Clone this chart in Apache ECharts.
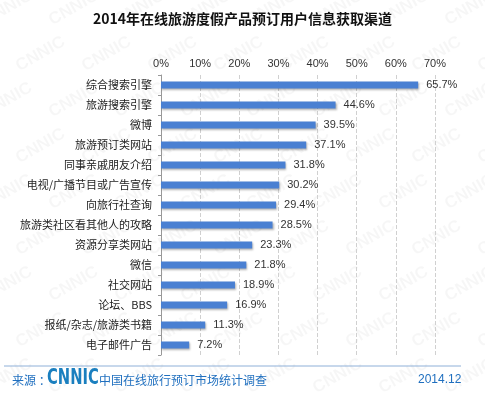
<!DOCTYPE html>
<html>
<head>
<meta charset="utf-8">
<script src="https://cdn.jsdelivr.net/npm/echarts@6/dist/echarts.min.js"></script>
<style>
html, body { margin: 0; padding: 0; background: #fff; }
#main { width: 485px; height: 400px; }
</style>
</head>
<body>
<div id="main"></div>
<script>
var categories = ['综合搜索引擎', '旅游搜索引擎', '微博', '旅游预订类网站', '同事亲戚朋友介绍',
    '电视/广播节目或广告宣传', '向旅行社查询', '旅游类社区看其他人的攻略', '资源分享类网站',
    '微信', '社交网站', '论坛、BBS', '报纸/杂志/旅游类书籍', '电子邮件广告'];
var values = [65.7, 44.6, 39.5, 37.1, 31.8, 30.2, 29.4, 28.5, 23.3, 21.8, 18.9, 16.9, 11.3, 7.2];
var tickValues = [0, 10, 20, 30, 40, 50, 60, 70];

var font = '"Noto Sans CJK SC", "Microsoft YaHei", sans-serif';

// faint CNNIC watermark
var marks = [];
for (var r = 0; r < 9; r++) {
    for (var c = 0; c < 8; c++) {
        marks.push({
            type: 'text',
            x: c * 66 - 20 + (r % 2) * 33,
            y: r * 46 + 14,
            rotation: Math.PI / 6,
            silent: true,
            z: -10,
            style: { text: 'CNNIC', fill: 'rgba(0,0,0,0.035)', font: 'bold 17px Arial' }
        });
    }
}

var chart = echarts.init(document.getElementById('main'));
chart.setOption({
    animation: false,
    backgroundColor: '#fff',
    title: {
        text: '2014年在线旅游度假产品预订用户信息获取渠道',
        left: 'center',
        top: 7,
        textStyle: { fontFamily: font, fontSize: 14, fontWeight: 'bold', color: '#111' }
    },
    grid: { left: 161, right: 50, top: 75, bottom: 45 },
    xAxis: {
        type: 'value',
        position: 'top',
        min: 0,
        max: 70,
        interval: 10,
        axisLine: { show: false },
        axisTick: { show: false },
        axisLabel: {
            color: '#333', fontSize: 11, fontFamily: 'Arial, "Liberation Sans", sans-serif', margin: 6,
            formatter: function (v) { return tickValues.indexOf(v) >= 0 ? v + '%' : ''; }
        },
        splitLine: { lineStyle: { type: 'dashed', color: '#d0d0d0' } }
    },
    yAxis: {
        type: 'category',
        inverse: true,
        data: categories,
        axisLine: { lineStyle: { color: '#999' } },
        axisTick: { show: true, length: 3, lineStyle: { color: '#999' } },
        axisLabel: { color: '#222', fontSize: 11, fontFamily: font, margin: 9 }
    },
    series: [{
        type: 'bar',
        data: values,
        barWidth: 7,
        itemStyle: {
            color: '#4a80d2',
            shadowColor: 'rgba(0,0,0,0.3)',
            shadowOffsetX: 1,
            shadowOffsetY: 1,
            shadowBlur: 2
        },
        label: {
            show: true,
            position: 'right',
            distance: 8,
            color: '#333',
            fontSize: 11,
            fontFamily: 'Arial, "Liberation Sans", sans-serif',
            formatter: function (p) { return p.value.toFixed(1) + '%'; }
        }
    }],
    graphic: marks.concat([
        { type: 'line', shape: { x1: 4, y1: 366, x2: 461, y2: 366 }, style: { stroke: '#8fb0d8', lineWidth: 1 } },
        { type: 'text', x: 12, y: 374, style: { text: '来源 ：', fill: '#1f6fbf', font: '12px ' + font } },
        { type: 'text', x: 47, y: 368, scaleX: 0.78, style: { text: 'CNNIC', fill: '#1a7fbf', font: 'bold 21px "DejaVu Sans Condensed", Arial' } },
        { type: 'text', x: 99, y: 374, style: { text: '中国在线旅行预订市场统计调查', fill: '#1f6fbf', font: '12px ' + font } },
        { type: 'text', x: 418, y: 374, style: { text: '2014.12', fill: '#1f6fbf', font: '12px Arial' } }
    ])
});
</script>
</body>
</html>
